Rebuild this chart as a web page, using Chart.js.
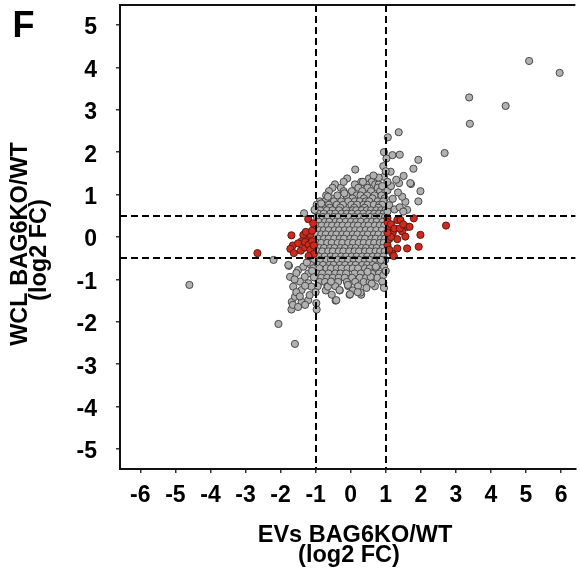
<!DOCTYPE html>
<html><head><meta charset="utf-8">
<script src="https://cdn.jsdelivr.net/npm/chart.js@4"></script>
<style>html,body{margin:0;padding:0;background:#fff;overflow:hidden}</style>
</head><body>
<canvas id="c" width="580" height="577"></canvas>
<script>
// ---- data ----
const xTicks = [-6,-5,-4,-3,-2,-1,0,1,2,3,4,5,6];
const yTicks = [-5,-4,-3,-2,-1,0,1,2,3,4,5];
const xThresholds = [-1, 1];
const yThresholds = [-0.5, 0.5];
const xTitleLines = ['EVs BAG6KO/WT', '(log2 FC)'];
const yTitleLines = ['WCL BAG6KO/WT', '(log2 FC)'];
const panelLabel = 'F';

// dense central cloud, row by row: [y, [x values]]
const grayCoreRows = [
  [1.38, [-0.1, 0.52]],
  [1.30, [0.3, 0.6]],
  [1.24, [-0.45, 0.12, 0.44, 0.7, 0.8]],
  [1.16, [-0.52, -0.28, 0.22, 0.48, 0.77, 0.91]],
  [1.08, [-0.62, -0.2, 0.03, 0.33, 0.58, 0.84, 0.99]],
  [0.98, [-0.7, -0.38, -0.12, 0.17, 0.28, 0.47, 0.68, 0.88]],
  [0.91, [-0.55, 0.05, 0.38, 0.62, 0.97]],
  [0.84, [-0.88, -0.72, -0.48, -0.27, -0.07, 0.12, 0.26, 0.43, 0.53, 0.77, 0.93]],
  [0.76, [-0.97, -0.78, -0.62, -0.4, -0.22, 0.02, 0.18, 0.37, 0.48, 0.66, 0.82, 0.9]],
  [0.69, [-0.6, -0.3, 0.1, 0.4, 0.79]],
  [0.63, [-1.02, -0.87, -0.68, -0.52, -0.33, -0.13, 0.06, 0.16, 0.32, 0.46, 0.58, 0.73, 0.87, 0.99]],
  [0.55, [-0.93, -0.77, -0.58, -0.44, -0.26, -0.11, 0.03, 0.21, 0.36, 0.53, 0.67, 0.81, 0.94]],
  [0.47, [-0.96, -0.79, -0.66, -0.48, -0.36, -0.19, -0.04, 0.11, 0.27, 0.39, 0.56, 0.69, 0.86, 0.98]],
  [0.36, [-0.91, -0.73, -0.61, -0.43, -0.31, -0.14, 0.01, 0.16, 0.29, 0.47, 0.61, 0.74, 0.91]],
  [0.27, [-0.98, -0.83, -0.66, -0.53, -0.37, -0.23, -0.07, 0.09, 0.21, 0.39, 0.51, 0.69, 0.83, 0.96]],
  [0.16, [-0.9, -0.77, -0.63, -0.46, -0.33, -0.17, -0.03, 0.13, 0.27, 0.43, 0.57, 0.73, 0.89]],
  [0.06, [-0.97, -0.84, -0.71, -0.54, -0.41, -0.24, -0.11, 0.06, 0.19, 0.36, 0.49, 0.66, 0.79, 0.96]],
  [-0.04, [-0.93, -0.76, -0.63, -0.47, -0.31, -0.19, -0.01, 0.11, 0.29, 0.41, 0.59, 0.71, 0.87, 0.98]],
  [-0.14, [-0.96, -0.84, -0.67, -0.54, -0.37, -0.24, -0.07, 0.07, 0.23, 0.37, 0.53, 0.67, 0.83, 0.94]],
  [-0.26, [-0.89, -0.76, -0.59, -0.46, -0.29, -0.16, 0.01, 0.14, 0.31, 0.44, 0.61, 0.74, 0.91]],
  [-0.34, [-0.94, -0.81, -0.64, -0.51, -0.34, -0.21, -0.04, 0.11, 0.24, 0.41, 0.54, 0.71, 0.84, 0.97]],
  [-0.46, [-0.91, -0.74, -0.57, -0.43, -0.27, -0.13, 0.03, 0.17, 0.33, 0.47, 0.63, 0.77, 0.93]],
  [-0.54, [-1.04, -0.86, -0.69, -0.56, -0.37, -0.23, -0.07, 0.09, 0.24, 0.41, 0.54, 0.71, 0.85, 0.98]],
  [-0.66, [-1.14, -0.94, -0.79, -0.61, -0.49, -0.31, -0.16, 0.01, 0.14, 0.33, 0.47, 0.63, 0.79]],
  [-0.74, [-1.07, -0.89, -0.69, -0.56, -0.39, -0.26, -0.09, 0.06, 0.21, 0.41, 0.54, 0.71]],
  [-0.86, [-1.21, -0.97, -0.81, -0.63, -0.44, -0.29, -0.13, 0.11, 0.29, 0.49, 0.61, 0.81]],
  [-0.96, [-1.0, -0.84, -0.67, -0.51, -0.34, -0.17, 0.04, 0.26, 0.44, 0.58, 0.76]],
  [-1.06, [-0.89, -0.73, -0.55, -0.36, -0.11, 0.13, 0.37, 0.54]],
  [-1.16, [-0.94, -0.66, -0.44, -0.07, 0.21, 0.69]],
  [-1.26, [-0.71, -0.31, 0.06]],
  [-1.36, [-0.54, -0.03, 0.3]]
];

// scattered grey points outside the dense cloud: [x, y]
const grayOuterPoints = [
  [5.09,4.15],[5.96,3.87],[3.38,3.29],[4.42,3.09],[3.40,2.67],[2.68,1.98],
  [1.06,2.35],[1.37,2.47],[1.19,1.93],[1.40,1.94],[1.93,1.82],[1.79,1.61],[1.99,1.08],[1.93,0.84],
  [1.72,1.25],[1.51,1.44],[0.13,1.59],[0.93,1.67],[0.95,1.42],[1.14,1.54],[1.38,1.27],[1.70,1.27],
  [1.56,0.83],[1.47,0.95],[1.61,0.64],[1.05,0.6],[1.1,0.75],[1.2,0.9],[1.05,1.1],[1.15,1.2],
  [1.3,1.35],[1.25,0.65],[1.4,0.7],[1.5,0.6],[1.35,1.05],[1.05,1.3],[1.0,1.55],[0.9,1.2],
  [0.95,2.0],[1.02,1.85],[0.35,1.3],[-0.2,1.3],[0.8,1.4],[0.65,1.45],
  [-4.60,-1.13],[-2.06,-2.05],[-1.59,-2.52],[-2.2,-0.54],[-1.76,-0.68],[-1.69,-1.71],[-1.68,-1.53],
  [-0.97,-1.71],[-0.43,-1.50],[-0.02,-1.35],[0.28,-1.31],[0.93,-1.08],[-1.73,-0.94],[-1.64,-1.17],
  [-1.40,-1.25],[-1.59,-1.41],[-1.4,-1.53],[-1.21,-1.49],[-1.17,-1.37],[-0.98,-1.56],[-1.78,-0.66],
  [-1.5,-0.78],[-1.31,-0.94],[-1.21,-1.09],[-1.45,-1.05],[-1.12,-1.17],[-0.65,-1.17],[-0.56,-1.05],
  [-0.32,-1.25],[-0.08,-1.13],[-0.41,-1.49],[-1.33,0.56],[-1.03,0.64],[-0.84,0.79],[-0.65,0.95],
  [-0.18,1.03],[-1.55,-0.85],[-1.35,-0.7],[-1.25,-0.6],[-1.1,-0.8],[-1.0,-1.3],[-1.05,-0.95],
  [-1.3,-1.15],[-1.6,-1.0],[-1.55,-1.3],[-1.45,-1.4],[-1.65,-1.6],[-1.5,-1.65],[-1.3,-1.6],
  [0.86,-0.54],[0.93,-0.9],[0.90,-1.05],[0.57,-0.94],[0.48,-0.82],[0.72,-0.7],[0.95,-1.2],
  [0.6,-1.1],[0.45,-1.2],[0.2,-1.3],[0.95,-0.7],[1.0,-0.8]
];

// red (significant) points: [x, y]
const redPoints = [
  [-2.66,-0.38],[-1.69,0.04],[-1.21,0.42],[-1.07,0.32],[-1.65,-0.2],[-1.72,-0.28],[-1.62,-0.38],
  [-1.42,-0.32],[-1.3,-0.25],[-1.25,0.0],[-1.35,0.05],[-1.15,0.05],[-1.4,-0.1],[-1.3,-0.12],
  [-1.2,-0.18],[-1.1,-0.1],[-1.15,-0.3],[-1.05,-0.2],[-1.05,-0.4],[-1.5,-0.15],[-1.28,0.12],
  [-1.1,0.15],[-1.2,-0.45],
  [1.05,0.44],[1.33,0.4],[1.42,0.4],[1.8,0.44],[1.61,0.24],[1.68,0.24],[1.47,0.13],[1.99,0.05],
  [1.56,0.01],[1.33,-0.05],[1.2,0.1],[1.1,0.25],[1.05,0.35],[1.15,0.3],[1.05,-0.19],[1.33,-0.27],
  [1.61,-0.27],[1.94,-0.23],[1.19,-0.39],[1.23,-0.45],[1.1,-0.05],[1.15,0.0],[1.25,0.2],[1.05,0.1],
  [1.1,-0.3],[2.72,0.27],[1.4,0.2],[1.5,0.3]
];

// ---- build chart data ----
const grayData = [];
grayCoreRows.forEach(([y, xs]) => xs.forEach(x => grayData.push({x, y})));
grayOuterPoints.forEach(([x, y]) => grayData.push({x, y}));
const redData = redPoints.map(([x, y]) => ({x, y}));

const FONT = '"Liberation Sans", Arial, sans-serif';

const overlay = {
  id: 'overlay',
  afterDatasetsDraw(chart) {
    const {ctx, chartArea: a, scales: {x, y}} = chart;
    ctx.save();
    ctx.strokeStyle = '#000';
    ctx.lineWidth = 2;
    ctx.setLineDash([7, 4]);
    xThresholds.forEach(v => {
      const p = Math.round(x.getPixelForValue(v));
      ctx.beginPath(); ctx.moveTo(p, a.top); ctx.lineTo(p, a.bottom); ctx.stroke();
    });
    yThresholds.forEach(v => {
      const p = Math.round(y.getPixelForValue(v));
      ctx.beginPath(); ctx.moveTo(a.left, p); ctx.lineTo(a.right, p); ctx.stroke();
    });
    ctx.setLineDash([]);
    ctx.strokeStyle = '#111';
    ctx.lineWidth = 2;
    ctx.beginPath(); ctx.moveTo(a.left - 1, a.top); ctx.lineTo(a.right, a.top); ctx.stroke();
    ctx.restore();
  },
  afterDraw(chart) {
    const ctx = chart.ctx;
    ctx.save();
    ctx.fillStyle = '#000';
    ctx.font = 'bold 23.5px ' + FONT;
    ctx.textAlign = 'center';
    ctx.textBaseline = 'alphabetic';
    ctx.fillText(xTitleLines[0], 355, 542);
    ctx.fillText(xTitleLines[1], 349, 562);
    ctx.save();
    ctx.translate(27, 244); ctx.rotate(-Math.PI / 2);
    ctx.fillText(yTitleLines[0], 0, 0);
    ctx.restore();
    ctx.save();
    ctx.translate(46, 250); ctx.rotate(-Math.PI / 2);
    ctx.fillText(yTitleLines[1], 0, 0);
    ctx.restore();
    ctx.font = 'bold 36px ' + FONT;
    ctx.textAlign = 'left';
    ctx.fillText(panelLabel, 12.5, 37);
    ctx.restore();
  }
};

new Chart(document.getElementById('c'), {
  type: 'scatter',
  data: {
    datasets: [
      {
        label: 'significant',
        data: redData,
        order: 0,
        backgroundColor: '#cf2a1f',
        borderColor: '#5c1a12',
        borderWidth: 1,
        pointRadius: 3.6,
        pointHoverRadius: 3.6
      },
      {
        label: 'all',
        data: grayData,
        order: 1,
        backgroundColor: '#b1b1b1',
        borderColor: '#474747',
        borderWidth: 1,
        pointRadius: 3.6,
        pointHoverRadius: 3.6
      }
    ]
  },
  options: {
    responsive: false,
    animation: false,
    layout: {padding: {top: 5, left: 0, right: 0, bottom: 0}},
    plugins: {legend: {display: false}, tooltip: {enabled: false}},
    scales: {
      x: {
        type: 'linear',
        min: -6.58, max: 6.41,
        afterFit(s) { s.height = 108; s.paddingLeft = 0; s.paddingRight = 0; },
        afterBuildTicks(s) { s.ticks = xTicks.map(v => ({value: v})); },
        border: {display: true, color: '#111', width: 2},
        grid: {display: true, drawOnChartArea: false, drawTicks: true, tickLength: 4, color: '#333', lineWidth: 1.5},
        ticks: {
          color: '#000', padding: 9, maxRotation: 0, autoSkip: false,
          font: {family: FONT, size: 23, weight: 'bold'},
          callback: v => String(v)
        }
      },
      y: {
        type: 'linear',
        min: -5.47, max: 5.47,
        afterFit(s) { s.width = 120; s.paddingTop = 0; s.paddingBottom = 0; },
        afterBuildTicks(s) { s.ticks = yTicks.map(v => ({value: v})); },
        border: {display: true, color: '#111', width: 2},
        grid: {display: true, drawOnChartArea: false, drawTicks: true, tickLength: 4, color: '#333', lineWidth: 1.5},
        ticks: {
          color: '#000', padding: 19, labelOffset: 3, autoSkip: false,
          font: {family: FONT, size: 23, weight: 'bold'},
          callback: v => String(v)
        }
      }
    }
  },
  plugins: [overlay]
});
</script>
</body></html>
